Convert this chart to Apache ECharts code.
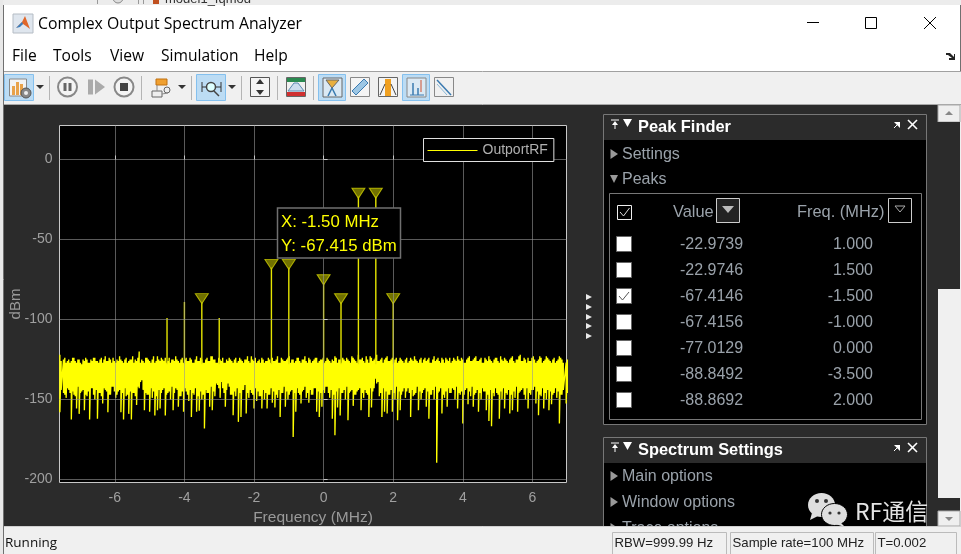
<!DOCTYPE html>
<html><head><meta charset="utf-8">
<style>html,body{margin:0;padding:0;background:#f0f0f0;overflow:hidden}#c{width:961px;height:554px}</style>
<script src="https://cdn.jsdelivr.net/npm/echarts@6/dist/echarts.min.js"></script>
</head><body><div id="c"></div>
<script>
// ---------- chart values ----------
const xTicks=[-6,-4,-2,0,2,4,6];
const yTicks=[-200,-150,-100,-50,0];
const noiseFreq=[-7.58,-7.475,-7.4,-7.325,-7.25,-7.175,-7.1,-7.025,-6.95,-6.875,
-6.8,-6.725,-6.65,-6.575,-6.5,-6.425,-6.35,-6.275,-6.2,-6.125,
-6.05,-5.975,-5.9,-5.825,-5.75,-5.675,-5.6,-5.525,-5.45,-5.375,
-5.3,-5.225,-5.15,-5.075,-5,-4.925,-4.85,-4.775,-4.7,-4.625,
-4.55,-4.475,-4.4,-4.325,-4.25,-4.175,-4.1,-4.025,-3.95,-3.875,
-3.8,-3.725,-3.65,-3.575,-3.5,-3.425,-3.35,-3.275,-3.2,-3.125,
-3.05,-2.975,-2.9,-2.825,-2.75,-2.675,-2.6,-2.525,-2.45,-2.375,
-2.3,-2.225,-2.15,-2.075,-2,-1.925,-1.85,-1.775,-1.7,-1.625,
-1.55,-1.475,-1.4,-1.325,-1.25,-1.175,-1.1,-1.025,-0.95,-0.875,
-0.8,-0.725,-0.65,-0.575,-0.5,-0.425,-0.35,-0.275,-0.2,-0.125,
-0.05,0.025,0.1,0.175,0.25,0.325,0.4,0.475,0.55,0.625,
0.7,0.775,0.85,0.925,1,1.075,1.15,1.225,1.3,1.375,
1.45,1.525,1.6,1.675,1.75,1.825,1.9,1.975,2.05,2.125,
2.2,2.275,2.35,2.425,2.5,2.575,2.65,2.725,2.8,2.875,
2.95,3.025,3.1,3.175,3.25,3.325,3.4,3.475,3.55,3.625,
3.7,3.775,3.85,3.925,4,4.075,4.15,4.225,4.3,4.375,
4.45,4.525,4.6,4.675,4.75,4.825,4.9,4.975,5.05,5.125,
5.2,5.275,5.35,5.425,5.5,5.575,5.65,5.725,5.8,5.875,
5.95,6.025,6.1,6.175,6.25,6.325,6.4,6.475,6.55,6.625,
6.7,6.775,6.85,6.97];
const noiseTop=[-122,-125,-127,-125,-126,-124,-127,-125,-128,-126,
-125,-127,-126,-124,-126,-125,-127,-123,-126,-125,
-124,-127,-126,-125,-127,-124,-126,-125,-127,-126,
-120,-125,-127,-124,-126,-125,-127,-123,-126,-125,
-124,-126,-127,-125,-123,-126,-125,-127,-124,-126,
-125,-127,-123,-126,-125,-127,-124,-126,-123,-125,
-127,-125,-124,-127,-126,-125,-127,-124,-126,-125,
-127,-125,-126,-123,-126,-127,-125,-124,-127,-126,
-125,-124,-126,-123,-127,-125,-126,-124,-127,-125,
-126,-124,-127,-125,-126,-124,-127,-125,-124,-126,
-125,-127,-124,-126,-125,-123,-127,-125,-124,-126,
-125,-127,-124,-126,-122,-125,-126,-123,-127,-124,
-125,-122,-126,-124,-125,-123,-126,-124,-125,-127,
-124,-126,-125,-127,-124,-126,-125,-127,-124,-125,
-126,-124,-127,-123,-125,-126,-124,-127,-125,-124,
-126,-125,-123,-126,-125,-127,-124,-126,-125,-123,
-126,-124,-127,-125,-123,-126,-125,-124,-127,-125,
-124,-126,-125,-123,-127,-125,-122,-126,-125,-124,
-126,-123,-127,-125,-124,-126,-123,-125,-127,-124,
-126,-123,-125,-127,-124];
const noiseLow=[-158,-146,-149,-144,-162.5,-147,-155.7,-159,-145,-156.7,
-148,-162.5,-143,-150,-162,-146,-152.5,-144,-158,-147,
-142,-149,-145,-158,-162.5,-148,-159,-162.5,-146,-153.5,
-143,-138,-156.7,-147,-157.7,-149,-160,-156.7,-155.7,-144,
-160,-146,-150,-156.7,-143,-154.6,-148,-157.7,-145,-151,
-161,-147,-157.7,-157,-150,-168.2,-146,-154.6,-156.7,-148,
-141,-149,-143,-154.6,-140,-147,-159.8,-148,-164,-160.9,
-144,-158.8,-149,-146,-155.7,-151,-148,-155.7,-150,-155.7,
-147,-152,-155,-149,-161,-146,-154.6,-150,-145,-173.4,
-157.7,-146,-152.5,-144,-149,-152,-147,-143,-157.7,-161,
-154.6,-146,-142,-149,-162,-172.3,-155,-160,-146,-150,
-163,-145,-154,-147,-144,-156.7,-149,-146,-161,-155,
-143,-140,-148,-161,-157.7,-158.8,-147,-157.7,-150,-163,
-156.7,-145,-149,-143,-161,-148,-146,-156.7,-150,-144,
-154.6,-162,-147,-150,-189.6,-145,-158.8,-149,-154.6,-146,
-143,-150,-155.7,-147,-165,-144,-153,-148,-154.6,-146,
-157.7,-150,-145,-156.7,-163.4,-166.7,-148,-146,-162,-150,
-155.7,-147,-158.8,-156.7,-149,-157.7,-145,-143,-150,-155.7,
-147,-144,-152.5,-159.8,-148,-155.7,-150,-156.7,-153,-146,
-149,-165,-147,-152.5,-148];
// in-between samples (they fill the solid part of the noise band)
const noiseMidTop=[-126,-124,-126,-127,-124,-126,-125,-127,-125,-124,
-127,-125,-124,-126,-127,-124,-125,-126,-124,-127,
-126,-125,-123,-126,-125,-127,-125,-123,-125,-124,
-127,-126,-124,-125,-127,-123,-126,-125,-124,-126,
-127,-124,-125,-126,-125,-127,-124,-125,-126,-124,
-127,-125,-126,-124,-127,-125,-126,-123,-125,-127,
-124,-126,-127,-125,-124,-126,-125,-127,-124,-126,
-125,-123,-127,-125,-124,-126,-127,-125,-126,-124,
-127,-126,-125,-127,-124,-126,-125,-123,-125,-127,
-124,-126,-125,-123,-127,-125,-126,-124,-127,-125,
-124,-126,-125,-127,-126,-124,-125,-127,-125,-124,
-126,-123,-125,-127,-125,-124,-127,-125,-123,-126,
-124,-126,-125,-127,-124,-126,-125,-127,-124,-126,
-125,-127,-124,-126,-125,-123,-126,-125,-127,-124,
-125,-127,-125,-126,-124,-127,-125,-124,-126,-127,
-124,-126,-125,-124,-127,-125,-123,-126,-124,-126,
-125,-127,-124,-126,-125,-127,-124,-126,-123,-126,
-125,-127,-124,-126,-125,-123,-126,-124,-127,-126,
-124,-125,-126,-123,-127,-125,-124,-126,-125,-127,
-125,-124,-127,-125,-126];
const noiseMidLow=[-144,-147,-143,-146,-145,-148,-142,-146,-144,-147,
-145,-143,-147,-144,-146,-148,-143,-145,-147,-142,
-145,-147,-144,-146,-143,-147,-145,-146,-148,-142,
-139,-144,-146,-147,-143,-145,-148,-144,-146,-143,
-147,-145,-142,-146,-144,-148,-145,-143,-147,-144,
-146,-143,-148,-145,-147,-144,-146,-142,-145,-140,
-143,-139,-146,-144,-142,-147,-145,-143,-146,-144,
-141,-146,-144,-147,-143,-145,-148,-144,-146,-147,
-143,-145,-147,-144,-146,-142,-145,-147,-144,-146,
-143,-147,-145,-142,-146,-144,-147,-143,-145,-146,
-144,-142,-146,-144,-147,-145,-143,-146,-144,-142,
-146,-144,-147,-145,-143,-146,-144,-147,-143,-145,
-137,-139,-146,-143,-145,-147,-144,-146,-142,-145,
-147,-143,-145,-146,-144,-147,-142,-145,-146,-143,
-145,-147,-144,-142,-146,-143,-147,-145,-143,-146,
-144,-142,-146,-145,-147,-143,-145,-142,-147,-144,
-146,-143,-145,-147,-144,-146,-143,-147,-145,-143,
-146,-144,-147,-145,-142,-146,-144,-147,-143,-146,
-144,-142,-145,-147,-143,-146,-144,-145,-147,-143,
-145,-147,-144,-146,-145];
const midStep=0.0375;
const spurFreq=[-4.5,-4,-3];
const spurValue=[-99,-89,-99];
const markerFreq=[-3.5,-1.5,-1,0,0.5,1,1.5,2];
const markerValue=[-88.85,-67.41,-67.42,-77.01,-88.9,-22.97,-22.97,-88.87];
const tablePeakValue=[-22.9739,-22.9746,-67.4146,-67.4156,-77.0129,-88.8492,-88.8692];
const tablePeakFreq=[1,1.5,-1.5,-1,0,-3.5,2];
const tableChecked=[false,false,true,false,false,false,false];
const stemFloor=-128;

// ---------- series data built from the arrays ----------
const noiseData=[];
noiseFreq.forEach((f,i)=>{
  noiseData.push([f,noiseTop[i]],[f,noiseLow[i]],[f+midStep,noiseMidTop[i]],[f+midStep,noiseMidLow[i]]);
});
const stemData=[];
spurFreq.concat(markerFreq).forEach((f,i)=>{
  const v=spurValue.concat(markerValue)[i];
  stemData.push([f,stemFloor],[f,v],[f,'-']);
});

// ---------- window chrome helpers ----------
const UI='"Open Sans","Noto Sans",sans-serif', AR='"Liberation Sans",Arial,sans-serif';
const R=(x,y,w,h,fill,stroke,lw)=>({type:'rect',z:10,shape:{x,y,width:w,height:h},style:{fill:fill||'none',stroke:stroke||'none',lineWidth:lw||1}});
const L=(x1,y1,x2,y2,c,lw)=>({type:'line',z:10,shape:{x1,y1,x2,y2},style:{stroke:c,lineWidth:lw||1}});
const P=(pts,fill,stroke)=>({type:'polygon',z:10,shape:{points:pts},style:{fill:fill||'none',stroke:stroke||'none'}});
const C=(cx,cy,r,fill,stroke,lw)=>({type:'circle',z:10,shape:{cx,cy,r},style:{fill:fill||'none',stroke:stroke||'none',lineWidth:lw||1}});
const E=(cx,cy,rx,ry,fill,stroke)=>({type:'ellipse',z:10,shape:{cx,cy,rx,ry},style:{fill,stroke:stroke||'none'}});
const T=(x,y,s,size,c,fam,o)=>({type:'text',z:10,x,y,style:Object.assign({text:s,fontSize:size,fill:c,fontFamily:fam||UI,verticalAlign:'middle',align:'left'},o||{})});
const caret=(x,y,c)=>P([[x-4,y-2],[x+4,y-2],[x,y+2]],c||'#444');
const g=[];
// behind the window
g.push(R(0,0,961,5,'#ececec'),R(0,0,3,554,'#e8e8e8'));
g.push(L(97.5,0,97.5,4,'#999'),L(138.5,0,138.5,4,'#999'),L(143.5,0,143.5,4,'#999'),C(118,-2,5,'#ddd','#888'));
g.push(R(153,-2,6,6,'#c0501f'));
g.push(T(165,-1,'model1_Iqmod',13,'#333',AR));
// window (under the plot)
g.push(Object.assign(R(3.5,4.5,957,550,'#ffffff','#707070'),{z:-2}));
g.push(R(13,14,20,19,'#dfe6ee','#b5bcc4'));
g.push(P([[16,28],[22,22],[25,16],[30,29],[26,26],[23,24]],'#e0672a'),P([[16,28],[22,22],[23,24],[20,27]],'#3a7fc0'));
g.push(T(38,24,'Complex Output Spectrum Analyzer',15.8,'#000'));
g.push(L(807,22.5,819,22.5,'#000'),R(865.5,17.5,11,11,'none','#000'),L(924,17,936,29,'#000'),L(936,17,924,29,'#000'));
[['File',12],['Tools',53],['View',110],['Simulation',161],['Help',254]].forEach(m=>g.push(T(m[1],56.5,m[0],15.6,'#000')));
g.push(P([[946,53],[950,53],[954,57],[954,54],[955,54],[955,60],[949,60],[949,58],[952,58],[948,55],[946,55]],'#222'));
// toolbar
g.push(R(4,71.5,957,33,'#f0f0f0'),L(4,71.5,961,71.5,'#a0a0a0'),L(4,104.5,961,104.5,'#a8a8a8'));
[[4.5,74.5,29,26],[196.5,74.5,29,26],[318.5,74.5,27,26],[402.5,74.5,27,26]].forEach(b=>g.push(R(b[0],b[1],b[2],b[3],'#bcdcf4','#84c0ee')));
[49.5,141.5,191.5,241.5,277.5,313.5].forEach(x=>g.push(L(x,76,x,100,'#b4b4b4')));
[40,182,232].forEach(x=>g.push(caret(x,87,'#333')));
// settings icon
g.push(R(9.5,79,17,17,'#f3f3f3','#888'),R(12,86,3,9,'#e8a24a'),R(16,82,3,13,'#e8a24a'),R(20,84,3,11,'#e8a24a'),C(26,93,5,'#888','#555'),C(26,93,2,'#eee'));
// transport
g.push(C(67.5,87,9.5,'#f4f4f4','#888',2),R(63.5,83,3,8,'#666'),R(68.5,83,3,8,'#666'));
g.push(R(88,79.5,5,15,'#aaa'),P([[95,79.5],[105,87],[95,94.5]],'#aaa'));
g.push(C(124,87,9.5,'#f4f4f4','#888',2),R(120,83,8,8,'#444'));
// model icon
g.push(R(156,79,11,6,'#f0a030','#c07010'),R(152,91,10,6,'#eee','#666'),C(167,90,3,'#eee','#666'),L(157,85,157,91,'#888'),L(162,94,168,93,'#888'));
// zoom icon
g.push(C(211,87,4.5,'#dff','#444',1.5),L(214,91,219,96,'#444',1.5),L(202,82,202,92,'#333'),L(221,82,221,92,'#333'),L(202,87,206,87,'#333'),L(216,87,221,87,'#333'));
// scale
g.push(R(250.5,77.5,19,19,'#f4f4f4','#555'),P([[260,79],[264,84],[256,84]],'#333'),P([[260,95],[264,90],[256,90]],'#333'));
// RF
g.push(R(286.5,77.5,19,19,'#f0f0f0','#666'),R(287,78,18,4,'#2a8a50'),R(287,92,18,4,'#d03030'),P([[288,91],[294,83],[298,83],[304,91]],'#cde','#5a8ab0'));
// cursor etc
g.push(R(323,78,19,19,'#dbe9f4','#666'),P([[326,80],[339,80],[332,88]],'#e8b040','#666'),L(332,88,328,96,'#3a7ab0',1.5),L(332,88,336,96,'#3a7ab0',1.5));
g.push(R(350.5,77.5,19,19,'#f4f4f4','#888'),P([[352,91],[364,79],[368,83],[356,95]],'#9cc6e4','#3a7ab0'));
g.push(R(378.5,77.5,19,19,'#f4f4f4','#666'),R(385,79,6,17,'#f0a020'),L(380,95,385,84,'#444'),L(396,95,391,84,'#444'));
g.push(R(407,78,19,19,'#dbe9f4','#888'),L(410,95,424,95,'#3a7ab0'),L(413,83,413,95,'#3a7ab0',1.5),L(418,88,418,95,'#3a7ab0',1.5),L(421,80,421,92,'#d05030'));
g.push(R(434.5,77.5,19,19,'#f0f0f0','#888'),L(437,80,451,95,'#3a7ab0',1.5),L(437,84,447,95,'#8ab8d8',1));
// scope area dark (under the plot)
g.push(Object.assign(R(4,105,934,421,'#2b2b2b'),{z:-1}));
// scroll bar
g.push(R(938,105,23,422,'#f0f0f0'),R(938,105,22,17,'#efefef','#aaa'),P([[945,115],[953,115],[949,111]],'#888'));
g.push(R(938,122,22,167,'#2b2b2b'),R(938,498,22,13,'#2b2b2b'),R(938,511,22,15,'#efefef','#aaa'),P([[945,517],[953,517],[949,521]],'#888'));
// collapse dots
[297,307,317,326,336].forEach(y=>g.push(P([[586,y-3],[592,y],[586,y+3]],'#e8e8e8')));
// Peak finder panel
const sub='#9aa2aa';
const hdr=(y,title)=>{
  g.push(T(638,y,title,16.4,'#fff',AR,{fontWeight:'bold'}));
  g.push(L(611,y-7,619,y-7,'#fff'),P([[612,y-2],[618,y-2],[615,y-6]],'#fff'),L(615,y-2,615,y+2,'#fff'));
  g.push(P([[623,y-8],[632,y-8],[627.5,y]],'#fff'));
  g.push(P([[894,y-5],[900,y-5],[900,y+1]],'#fff'),L(894,y+1,898,y-3,'#fff'));
  g.push(L(908,y-7,917,y+2,'#fff',1.6),L(917,y-7,908,y+2,'#fff',1.6));
};
const tri=(y)=>P([[610.5,y-5],[618,y],[610.5,y+5]],'#999');
g.push(R(603.5,114.5,323,310,'#000','#777'),R(604,115,322,25,'#2b2b2b'));
hdr(127,'Peak Finder');
g.push(tri(154),T(622,154.5,'Settings',16,sub,AR));
g.push(P([[610,175],[618,175],[614,183]],'#999'),T(622,179.5,'Peaks',16,sub,AR));
g.push(R(609.5,193.5,312,226,'none','#777'));
g.push(R(617.5,205.5,14,14,'#000','#eee'),L(620,212,623.5,216,'#ddd'),L(623.5,216,629.5,208,'#ddd'));
g.push(T(673,212.5,'Value',16.4,sub,AR),R(716.5,198.5,23,24,'#222','#ccc'),P([[722,206],[734,206],[728,213]],'#bbb'));
g.push(T(797,212.5,'Freq. (MHz)',16.4,sub,AR),R(888.5,198.5,23,24,'#000','#ccc'),P([[895,206],[905,206],[900,212]],'none','#aaa'));
tablePeakValue.forEach((v,i)=>{
  const y=244+i*26;
  g.push(R(616.5,y-7.5,15,15,'#fff','#666'));
  if(tableChecked[i]) g.push(L(619,y,622.5,y+4,'#555'),L(622.5,y+4,629,y-4,'#555'));
  g.push(T(680,y+.5,v.toFixed(4),16,sub,AR));
  g.push(T(873,y+.5,tablePeakFreq[i].toFixed(3),16,sub,AR,{align:'right'}));
});
// Spectrum settings panel
g.push(R(603.5,437.5,323,100,'#000','#777'),R(604,438,322,25,'#2b2b2b'));
hdr(450,'Spectrum Settings');
[['Main options',476.5],['Window options',502.5],['Trace options',528.5]].forEach(o=>{g.push(tri(o[1]-.5),T(622,o[1],o[0],16,sub,AR));});
// status bar
g.push(R(4,526,957,28,'#f0f0f0'),L(4,526.5,961,526.5,'#d0d0d0'));
g.push(T(5,543,'Running',13.5,'#111',UI));
[[612.5,114,'RBW=999.99 Hz'],[730.5,143,'Sample rate=100 MHz'],[875.5,81,'T=0.002']].forEach(b=>{
  g.push(R(b[0],532.5,b[1],24,'#f0f0f0','#bbb'),T(b[0]+2,543,b[2],13.2,'#222',AR));
});
// watermark
g.push(E(821.5,505,13.5,12,'#dedede'),P([[812,513],[810,520],[818,516]],'#dedede'),C(817,501,2,'#333'),C(826,501,2,'#333'));
g.push(E(834.5,514.5,13,11,'#dedede','#000'),P([[840,522],[845,527],[835,524]],'#dedede'),C(830,513,1.6,'#333'),C(839,513,1.6,'#333'));
g.push(T(855,511,'RF通信',23,'#e4e4e4','"Noto Sans CJK SC"'));
// data tip
g.push(Object.assign(R(277.5,208,123,50,'#000','#707070',1.5),{z:20}));
g.push(Object.assign(T(281,222.5,'X: -1.50 MHz',16.8,'#ffff00',AR),{z:21}));
g.push(Object.assign(T(281,246,'Y: -67.415 dBm',16.8,'#ffff00',AR),{z:21}));

const gridC='rgba(150,150,150,0.6)', lab='#a0a0a0';
const chart=echarts.init(document.getElementById('c'),null,{renderer:'canvas'});
chart.setOption({
  animation:false,
  backgroundColor:'rgba(0,0,0,0)',
  grid:{show:true,left:59.5,top:125.5,width:507,height:357,backgroundColor:'#000',borderColor:'#c8c8c8',borderWidth:1,containLabel:false,outerBoundsMode:'none'},
  xAxis:{type:'value',min:-7.59,max:6.98,z:3,
    name:'Frequency (MHz)',nameLocation:'middle',nameGap:27,nameMoveOverlap:false,nameTextStyle:{color:'#999',fontSize:15.5,fontFamily:AR},
    axisLine:{show:false},
    axisTick:{show:true,inside:true,length:4,lineStyle:{color:'#c8c8c8'},customValues:xTicks},
    axisLabel:{color:lab,fontSize:14,fontFamily:AR,margin:9,customValues:xTicks},
    splitLine:{show:true,lineStyle:{color:gridC,width:1}}},
  yAxis:{type:'value',min:-201.9,max:21.25,z:3,
    name:'dBm',nameLocation:'middle',nameGap:36,nameMoveOverlap:false,nameTextStyle:{color:'#999',fontSize:15,fontFamily:AR},
    axisLine:{show:false},
    axisTick:{show:true,inside:true,length:4,lineStyle:{color:'#c8c8c8'},customValues:yTicks},
    axisLabel:{color:lab,fontSize:14,fontFamily:AR,margin:7,padding:[3,0,0,0],customValues:yTicks},
    splitLine:{show:true,lineStyle:{color:gridC,width:1}}},
  legend:{show:true,data:['OutportRF'],left:423.5,top:138.5,padding:[5,6,4,4],itemWidth:50,itemHeight:1,icon:'rect',
    backgroundColor:'#000',borderColor:'#e0e0e0',borderWidth:1,borderRadius:0,
    textStyle:{color:'#b0b0b0',fontSize:14,fontFamily:AR}},
  series:[
    {name:'OutportRF',type:'line',data:noiseData,showSymbol:false,symbol:'none',silent:true,
      lineStyle:{color:'#ffff00',width:1.35},itemStyle:{color:'#ffff00'},z:2},
    {name:'stems',type:'line',data:stemData,showSymbol:false,symbol:'none',silent:true,connectNulls:false,
      lineStyle:{color:'#e6e600',width:1.4},z:2},
    {name:'markers',type:'scatter',data:markerFreq.map((f,i)=>[f,markerValue[i]]),symbol:'triangle',symbolRotate:180,
      symbolSize:[13,10],symbolOffset:[0,-3],silent:true,
      itemStyle:{color:'#8c8c00',borderColor:'#d0d000',borderWidth:1},z:2.5}
  ],
  graphic:{elements:g}
});
</script></body></html>
